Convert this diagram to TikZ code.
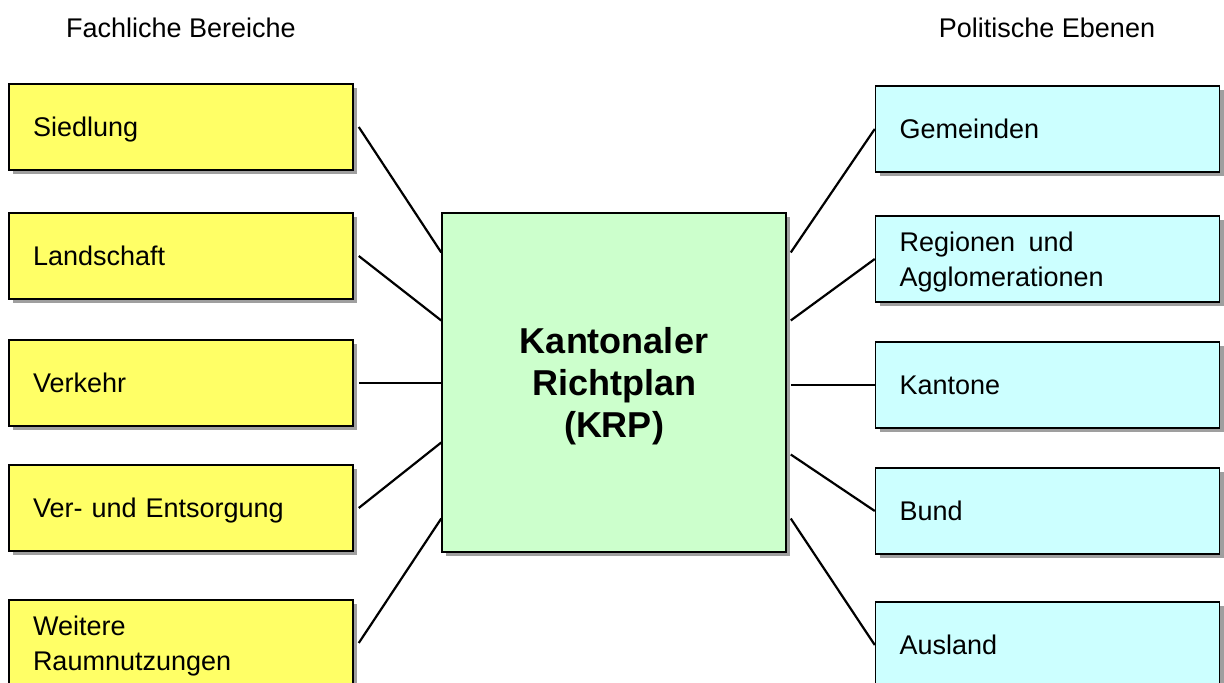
\documentclass[tikz,border=0pt]{standalone}
\usepackage{fontspec}
\setmainfont{Liberation Sans}
\usetikzlibrary{shadows}
\definecolor{fachgelb}{HTML}{FFFF66}
\definecolor{ebenecyan}{HTML}{CCFFFF}
\definecolor{krpgruen}{HTML}{CCFFCC}

\begin{document}
\begin{tikzpicture}[
					x=0.5pt,y=-0.5pt,
					font=\fontsize{13.5}{17.5}\selectfont,
					box/.style={rectangle,draw,line width=0.75pt,minimum height=43pt,text width=148pt,inner xsep=12pt,text depth=0pt,align=left,
						general shadow={fill=gray!75,shadow xshift=2pt,shadow yshift=-2pt}},
					zweizeilig/.style={text depth=17.5pt},
					fach/.style={box,fill=fachgelb},
					ebene/.style={box,fill=ebenecyan},
					link/.style={line width=1.1pt},
					]
					\useasboundingbox (0,0) rectangle (1224,683);
					\node (fachtitel) at (181,28) {Fachliche Bereiche};
					\node (ebenetitel) at (1047,28) {Politische Ebenen};
					\node [rectangle,draw,line width=0.75pt,fill=krpgruen,minimum width=172pt,minimum height=169.5pt,align=center,text depth=0pt,
						font=\fontsize{18}{21}\selectfont\bfseries,
						general shadow={fill=gray!75,shadow xshift=2pt,shadow yshift=-2pt}] (krp) at (614,382.5) {Kantonaler\\Richtplan\\(KRP)};
					\node [fach] (siedlung) at (181,127) {Siedlung};
					\node [fach] (landschaft) at (181,256) {Landschaft};
					\node [fach] (verkehr) at (181,383) {Verkehr};
					\node [fach] (entsorgung) at (181,508) {Ver- und Entsorgung};
					\node [fach,zweizeilig] (weitere) at (181,643) {Weitere\\Raumnutzungen};
					\node [ebene] (gemeinden) at (1047.5,129) {Gemeinden};
					\node [ebene,zweizeilig] (regionen) at (1047.5,259) {Regionen\, und\\Agglomerationen};
					\node [ebene] (kantone) at (1047.5,385) {Kantone};
					\node [ebene] (bund) at (1047.5,511) {Bund};
					\node [ebene] (ausland) at (1047.5,645) {Ausland};
					\draw[link] ([xshift=2.5pt]siedlung.east) -- ([yshift=65pt]krp.west);
					\draw[link] ([xshift=2.5pt]landschaft.east) -- ([yshift=31pt]krp.west);
					\draw[link] ([xshift=2.5pt]verkehr.east) -- (verkehr.east -| krp.west);
					\draw[link] ([xshift=2.5pt]entsorgung.east) -- ([yshift=-30pt]krp.west);
					\draw[link] ([xshift=2.5pt]weitere.east) -- ([yshift=-68pt]krp.west);
					\draw[link] ([xshift=2pt,yshift=65pt]krp.east) -- (gemeinden.west);
					\draw[link] ([xshift=2pt,yshift=31pt]krp.east) -- (regionen.west);
					\draw[link] ([xshift=2pt]kantone.west -| krp.east) -- (kantone.west);
					\draw[link] ([xshift=2pt,yshift=-36pt]krp.east) -- (bund.west);
					\draw[link] ([xshift=2pt,yshift=-68pt]krp.east) -- (ausland.west);
				\end{tikzpicture}
\end{document}
